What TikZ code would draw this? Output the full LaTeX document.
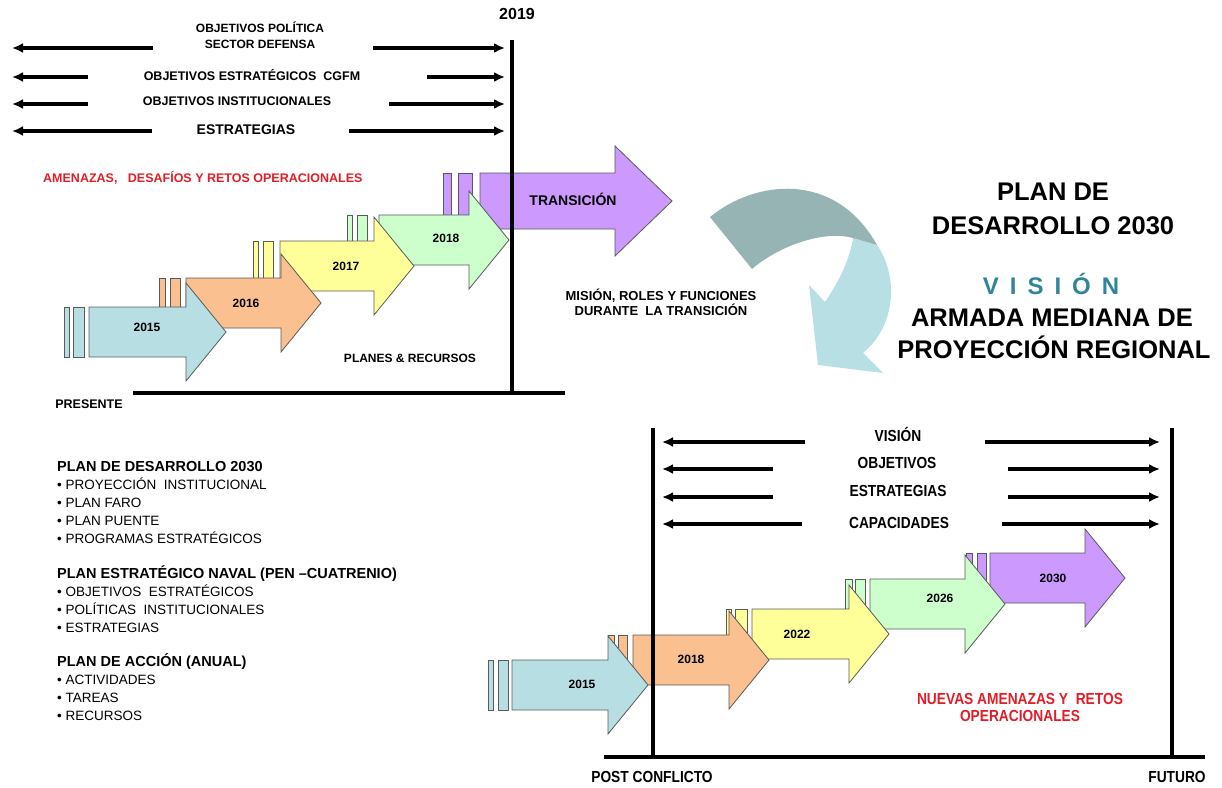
\documentclass[tikz,border=0pt]{standalone}
\usepackage{fontspec}
\setmainfont{Liberation Sans}
\newfontfamily\narrowfont[FakeStretch=0.86]{Liberation Sans}
\usepackage{tikz}
\usetikzlibrary{arrows.meta}
\definecolor{blueyr}{RGB}{183,222,227}
\definecolor{orangeyr}{RGB}{250,192,144}
\definecolor{yellowyr}{RGB}{255,255,153}
\definecolor{greenyr}{RGB}{204,255,204}
\definecolor{purpleyr}{RGB}{204,153,255}
\definecolor{edgegrey}{RGB}{90,90,90}
\definecolor{amenaza}{RGB}{225,30,40}
\definecolor{visionblue}{RGB}{49,133,155}
\definecolor{curvedark}{RGB}{150,180,180}
\definecolor{curvelight}{RGB}{184,224,228}
\newcommand{\fsz}[1]{\fontsize{#1}{#1}\selectfont}
\tikzstyle{longarrow} = [->, line width=3.5pt, >={Latex[length=11pt,width=10pt]}]
\tikzstyle{axisline} = [line width=3.5pt]
\tikzstyle{blockarrow} = [draw=edgegrey, line width=0.8pt, line join=miter]
\tikzstyle{lbl} = [inner sep=0pt, anchor=base]
\tikzstyle{yearlbl} = [lbl, font=\bfseries\fsz{12}]
\tikzstyle{rowlbl} = [lbl, font=\narrowfont\bfseries\fsz{16}]
\tikzstyle{itemlbl} = [lbl, anchor=base west, font=\fsz{13.5}]
\tikzstyle{headlbl} = [lbl, anchor=base west, font=\bfseries\fsz{14.5}]
\tikzstyle{bigtitle} = [lbl, font=\bfseries\fsz{25.5}]
% block arrow: name, body left, body right, centre y, colour
\newcommand{\yeararrow}[5]{%
  \filldraw[blockarrow, fill=#5] (#2,#4-25) -- (#3,#4-25) -- (#3,#4-49) -- (#3+40,#4)
    -- (#3,#4+49) -- (#3,#4+25) -- (#2,#4+25) -- cycle;
  \coordinate (#1) at (#2,#4);}
% the two strips in front of a block arrow
\newcommand{\yearbars}[6]{%
  \filldraw[blockarrow, fill=#6] (#1,#5-25) rectangle (#2,#5+25);
  \filldraw[blockarrow, fill=#6] (#3,#5-25) rectangle (#4,#5+25);}

\begin{document}
\begin{tikzpicture}[x=1pt, y=-1pt]
  \useasboundingbox (0,0) rectangle (1222,787);

  % Top staircase (later years first, so earlier heads lie on top)
  \filldraw[blockarrow, fill=purpleyr] (443,173) rectangle (451,229);
  \filldraw[blockarrow, fill=purpleyr] (458,173) rectangle (472,229);
  \filldraw[blockarrow, fill=purpleyr] (480,173) -- (615,173) -- (615,146) -- (672,201)
    -- (615,256) -- (615,229) -- (480,229) -- cycle;
  \coordinate (trans) at (480,201);
  \yearbars{347}{352}{357}{367}{240}{greenyr}
  \yeararrow{a2018}{379}{469}{240}{greenyr}
  \yearbars{253}{258}{263}{273}{266}{yellowyr}
  \yeararrow{a2017}{280}{374}{266}{yellowyr}
  \yearbars{159}{165}{170}{180}{303}{orangeyr}
  \yeararrow{a2016}{186}{281}{303}{orangeyr}
  \yearbars{64}{69}{73}{84}{332}{blueyr}
  \yeararrow{a2015}{89}{186}{332}{blueyr}

  \node (t2015) [yearlbl] at (147,331.3) {2015};
  \node (t2016) [yearlbl] at (246,307.3) {2016};
  \node (t2017) [yearlbl] at (346,270.3) {2017};
  \node (t2018) [yearlbl] at (446,242.3) {2018};
  \node (ttrans) [lbl, font=\bfseries\fsz{14}] at (573,205) {TRANSICIÓN};

  % Top axis
  \coordinate (y19top) at (512,40);
  \coordinate (y19bot) at (512,393);
  \coordinate (presa) at (133,393);
  \coordinate (presb) at (565,393);
  \draw[axisline] (y19top) -- (y19bot);
  \draw[axisline] (presa) -- (presb);
  \node (y2019) [lbl, font=\bfseries\fsz{16}] at (517,19.8) {2019};
  \node (present) [lbl, font=\bfseries\fsz{12.5}] at (89,408.5) {PRESENTE};

  % Top rows of arrows
  \coordinate (r1l) at (153,48);  \coordinate (r1le) at (12,48);
  \coordinate (r1r) at (373,48);  \coordinate (r1re) at (505,48);
  \coordinate (r2l) at (88,77);   \coordinate (r2le) at (12,77);
  \coordinate (r2r) at (427,77);  \coordinate (r2re) at (505,77);
  \coordinate (r3l) at (88,104);  \coordinate (r3le) at (12,104);
  \coordinate (r3r) at (389,104); \coordinate (r3re) at (505,104);
  \coordinate (r4l) at (152,131); \coordinate (r4le) at (12,131);
  \coordinate (r4r) at (349,131); \coordinate (r4re) at (505,131);
  \draw[longarrow] (r1l) -- (r1le);
  \draw[longarrow] (r1r) -- (r1re);
  \draw[longarrow] (r2l) -- (r2le);
  \draw[longarrow] (r2r) -- (r2re);
  \draw[longarrow] (r3l) -- (r3le);
  \draw[longarrow] (r3r) -- (r3re);
  \draw[longarrow] (r4l) -- (r4le);
  \draw[longarrow] (r4r) -- (r4re);
  \node (pol1) [lbl, font=\bfseries\fsz{12}] at (260,32.3) {OBJETIVOS POLÍTICA};
  \node (pol2) [lbl, font=\bfseries\fsz{12}] at (260,48.3) {SECTOR DEFENSA};
  \node (cgfm) [lbl, font=\bfseries\fsz{12.5}] at (252,80.5) {OBJETIVOS ESTRATÉGICOS\ \ CGFM};
  \node (inst) [lbl, font=\bfseries\fsz{12.5}] at (237,105.5) {OBJETIVOS INSTITUCIONALES};
  \node (estr) [lbl, font=\bfseries\fsz{14}] at (246,134) {ESTRATEGIAS};
  \node (amen) [lbl, anchor=base west, font=\bfseries\fsz{12.5}, text=amenaza] at (43,182.5)
    {AMENAZAS,\ \ \ DESAFÍOS Y RETOS OPERACIONALES};
  \node (planes) [lbl, font=\bfseries\fsz{12}] at (410,362.3) {PLANES \& RECURSOS};
  \node (mis1) [lbl, font=\bfseries\fsz{13}] at (661,300.7) {MISIÓN, ROLES Y FUNCIONES};
  \node (mis2) [lbl, font=\bfseries\fsz{13}] at (661,315.7) {DURANTE\ \ LA TRANSICIÓN};

  % Curved arrow
  \fill[curvelight] (853,238) -- (877,245) .. controls (898,275) and (897,325) .. (863,353)
    -- (883,373) -- (818,365) -- (809,285) -- (825,302)
    .. controls (840,280) and (850,258) .. (853,238) -- cycle;
  \fill[curvedark] (710,217) .. controls (755,180) and (835,170) .. (877,245)
    -- (853,238) .. controls (825,230) and (780,245) .. (752,269) -- cycle;

  % Vision text
  \node (plan1) [bigtitle] at (1053,200.2) {PLAN DE};
  \node (plan2) [bigtitle] at (1053,234.2) {DESARROLLO 2030};
  \node (vision) [bigtitle, font=\bfseries\fsz{24}, text=visionblue] at (1051,294.6)
    {\spaceskip=11pt V I S I Ó N};
  \node (armada1) [bigtitle] at (1052,326.5) {ARMADA MEDIANA DE};
  \node (armada2) [bigtitle] at (1054,358) {PROYECCIÓN REGIONAL};

  % Plan list
  \node (h1) [headlbl] at (57,471.2) {PLAN DE DESARROLLO 2030};
  \node (i11) [itemlbl] at (57,489.9) {• PROYECCIÓN\ \ INSTITUCIONAL};
  \node (i12) [itemlbl] at (57,507.9) {• PLAN FARO};
  \node (i13) [itemlbl] at (57,525.9) {• PLAN PUENTE};
  \node (i14) [itemlbl] at (57,543.9) {• PROGRAMAS ESTRATÉGICOS};
  \node (h2) [headlbl] at (57,578.2) {PLAN ESTRATÉGICO NAVAL (PEN –CUATRENIO)};
  \node (i21) [itemlbl] at (57,596.4) {• OBJETIVOS\ \ ESTRATÉGICOS};
  \node (i22) [itemlbl] at (57,614.2) {• POLÍTICAS\ \ INSTITUCIONALES};
  \node (i23) [itemlbl] at (57,632.4) {• ESTRATEGIAS};
  \node (h3) [headlbl] at (57,666.7) {PLAN DE ACCIÓN (ANUAL)};
  \node (i31) [itemlbl] at (57,684.4) {• ACTIVIDADES};
  \node (i32) [itemlbl] at (57,702.2) {• TAREAS};
  \node (i33) [itemlbl] at (57,720.4) {• RECURSOS};

  % Lower staircase
  \yearbars{966}{972}{977}{986}{578}{purpleyr}
  \yeararrow{b2030}{990}{1085}{578}{purpleyr}
  \yearbars{845}{852}{855}{865}{604}{greenyr}
  \yeararrow{b2026}{870}{965}{604}{greenyr}
  \yearbars{726}{731}{735}{747}{634}{yellowyr}
  \yeararrow{b2022}{752}{849}{634}{yellowyr}
  \yearbars{608}{614}{618}{627}{660}{orangeyr}
  \yeararrow{b2018}{633}{729}{660}{orangeyr}
  \yearbars{488}{493}{498}{508}{685}{blueyr}
  \yeararrow{b2015}{512}{608}{685}{blueyr}

  \node (u2015) [yearlbl] at (582,688.3) {2015};
  \node (u2018) [yearlbl] at (691,663.3) {2018};
  \node (u2022) [yearlbl] at (797,638.3) {2022};
  \node (u2026) [yearlbl] at (940,602.3) {2026};
  \node (u2030) [yearlbl] at (1053,582.3) {2030};

  % Lower axis
  \coordinate (pctop) at (653,428);
  \coordinate (pcbot) at (653,757);
  \coordinate (futop) at (1172,428);
  \coordinate (fubot) at (1172,757);
  \coordinate (basea) at (604,757);
  \coordinate (baseb) at (1205,757);
  \draw[axisline] (pctop) -- (pcbot);
  \draw[axisline] (futop) -- (fubot);
  \draw[axisline] (basea) -- (baseb);
  \node (postc) [rowlbl] at (652,782.8) {POST CONFLICTO};
  \node (futuro) [rowlbl] at (1177,782.8) {FUTURO};

  % Lower rows of arrows
  \coordinate (v1l) at (805,442);  \coordinate (v1le) at (662,442);
  \coordinate (v1r) at (985,442);  \coordinate (v1re) at (1160,442);
  \coordinate (v2l) at (773,469);  \coordinate (v2le) at (662,469);
  \coordinate (v2r) at (1008,469); \coordinate (v2re) at (1160,469);
  \coordinate (v3l) at (773,497);  \coordinate (v3le) at (662,497);
  \coordinate (v3r) at (1008,497); \coordinate (v3re) at (1160,497);
  \coordinate (v4l) at (802,524);  \coordinate (v4le) at (662,524);
  \coordinate (v4r) at (1002,524); \coordinate (v4re) at (1160,524);
  \draw[longarrow] (v1l) -- (v1le);
  \draw[longarrow] (v1r) -- (v1re);
  \draw[longarrow] (v2l) -- (v2le);
  \draw[longarrow] (v2r) -- (v2re);
  \draw[longarrow] (v3l) -- (v3le);
  \draw[longarrow] (v3r) -- (v3re);
  \draw[longarrow] (v4l) -- (v4le);
  \draw[longarrow] (v4r) -- (v4re);
  \node (lvis) [rowlbl] at (898,441.8) {VISIÓN};
  \node (lobj) [rowlbl] at (897,468.8) {OBJETIVOS};
  \node (lest) [rowlbl] at (898,496.8) {ESTRATEGIAS};
  \node (lcap) [rowlbl] at (899,528.3) {CAPACIDADES};
  \node (nuev1) [rowlbl, text=amenaza] at (1020,704.8) {NUEVAS AMENAZAS Y\ \ RETOS};
  \node (nuev2) [rowlbl, text=amenaza] at (1020,721.8) {OPERACIONALES};

\end{tikzpicture}
\end{document}
